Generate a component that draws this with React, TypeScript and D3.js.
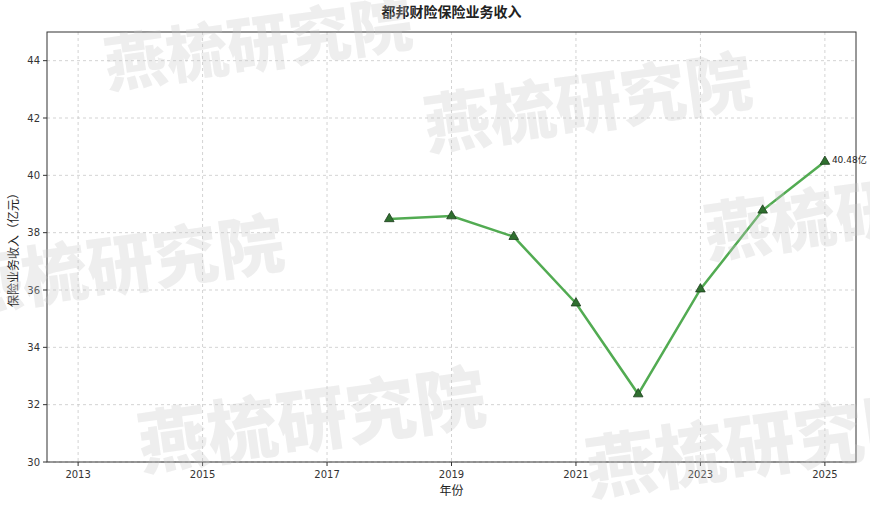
import React from "react";
import * as d3 from "d3";

const years = [2018, 2019, 2020, 2021, 2022, 2023, 2024, 2025];
const revenue = [38.48, 38.58, 37.86, 35.54, 32.37, 36.03, 38.78, 40.48];
const xTicks = [2013, 2015, 2017, 2019, 2021, 2023, 2025];
const yTicks = [30, 32, 34, 36, 38, 40, 42, 44];
const title = "都邦财险保险业务收入";
const xLabel = "年份";
const yLabel = "保险业务收入（亿元）";
const watermarks = [
  { x: 108, y: 88, s: 62 },
  { x: 428, y: 150, s: 66 },
  { x: -40, y: 312, s: 66 },
  { x: 708, y: 258, s: 66 },
  { x: 142, y: 470, s: 70 },
  { x: 590, y: 495, s: 70 },
];

export default function App() {
  const W = 870, H = 505;
  const m = { l: 47, r: 856, t: 32, b: 462 };
  const x = d3.scaleLinear().domain([2012.5, 2025.5]).range([m.l, m.r]);
  const y = d3.scaleLinear().domain([30, 45]).range([m.b, m.t]);
  const line = d3.line<number>().x((_, i) => x(years[i])).y((d) => y(d));
  const tri = d3.symbol().type(d3.symbolTriangle).size(40)() as string;
  const font = "'DejaVu Sans', 'Noto Sans CJK SC', sans-serif";
  const last = revenue.length - 1;
  return (
    <svg width={W} height={H} style={{ position: "absolute", left: 0, top: 0, background: "#fff" }} fontFamily={font}>
      <rect x={0} y={0} width={W} height={H} fill="#fff" />
      {xTicks.map((t) => (
        <line key={"gx" + t} x1={x(t)} x2={x(t)} y1={m.t} y2={m.b} stroke="#c8c8c8" strokeDasharray="3,3" strokeWidth={0.8} />
      ))}
      {yTicks.map((t) => (
        <line key={"gy" + t} x1={m.l} x2={m.r} y1={y(t)} y2={y(t)} stroke="#c8c8c8" strokeDasharray="3,3" strokeWidth={0.8} />
      ))}
      <path d={line(revenue) as string} fill="none" stroke="#3fa23f" strokeWidth={2.5} strokeOpacity={0.9} />
      {revenue.map((v, i) => (
        <path key={"m" + i} d={tri} transform={`translate(${x(years[i])},${y(v)})`} fill="#2f6f2f" stroke="#1d3d1d" strokeWidth={0.8} />
      ))}
      <text x={x(years[last]) + 7} y={y(revenue[last]) + 1} fontSize={9} fill="#222">{revenue[last].toFixed(2)}亿</text>
      <rect x={m.l} y={m.t} width={m.r - m.l} height={m.b - m.t} fill="none" stroke="#333" strokeWidth={1} />
      {xTicks.map((t) => (
        <g key={"tx" + t}>
          <line x1={x(t)} x2={x(t)} y1={m.b} y2={m.b + 4} stroke="#333" />
          <text x={x(t)} y={m.b + 16} fontSize={10} textAnchor="middle" fill="#333">{t}</text>
        </g>
      ))}
      {yTicks.map((t) => (
        <g key={"ty" + t}>
          <line x1={m.l - 4} x2={m.l} y1={y(t)} y2={y(t)} stroke="#333" />
          <text x={m.l - 7} y={y(t) + 3.5} fontSize={10} textAnchor="end" fill="#333">{t}</text>
        </g>
      ))}
      <text x={(m.l + m.r) / 2} y={17} fontSize={14} fontWeight="bold" textAnchor="middle" fill="#222">{title}</text>
      <text x={(m.l + m.r) / 2} y={495} fontSize={12} textAnchor="middle" fill="#222">{xLabel}</text>
      <text transform={`translate(18,${(m.t + m.b) / 2}) rotate(-90)`} fontSize={12} textAnchor="middle" fill="#222">{yLabel}</text>
      {watermarks.map((w, i) => (
        <text key={"w" + i} transform={`translate(${w.x},${w.y}) rotate(-8)`} fontSize={w.s} fontWeight="900"
          fontFamily="'Noto Sans CJK SC', sans-serif" fill="#c8c8c8" fillOpacity={0.3}>燕梳研究院</text>
      ))}
    </svg>
  );
}
